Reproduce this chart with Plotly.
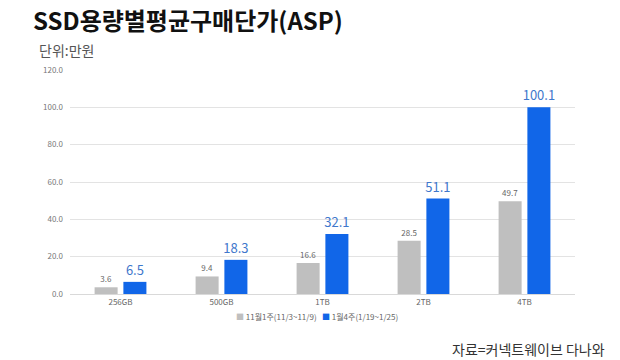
import plotly.graph_objects as go

categories = ["256GB", "500GB", "1TB", "2TB", "4TB"]
nov_values = [3.6, 9.4, 16.6, 28.5, 49.7]
jan_values = [6.5, 18.3, 32.1, 51.1, 100.1]
series_names = ["11월1주(11/3~11/9)", "1월4주(1/19~1/25)"]
series_colors = ["#bfbfbf", "#1166e8"]
y_ticks = [0, 20, 40, 60, 80, 100, 120]

FONT = "Noto Sans CJK KR"

fig = go.Figure()
fig.add_trace(go.Bar(
    x=categories, y=nov_values, name=series_names[0],
    marker=dict(color=series_colors[0], line=dict(width=0)),
    text=[f"{v:.1f}" for v in nov_values], textposition="outside",
    textfont=dict(size=8, color="#666666", family=FONT), cliponaxis=False,
    constraintext="none",
))
fig.add_trace(go.Bar(
    x=categories, y=jan_values, name=series_names[1],
    marker=dict(color=series_colors[1], line=dict(width=0)),
    text=[f"{v:.1f}" for v in jan_values], textposition="outside",
    textfont=dict(size=13, color="#3f78cc", family=FONT), cliponaxis=False,
    constraintext="none",
))

fig.update_layout(
    width=620, height=360,
    margin=dict(l=70, r=45, t=70, b=66),
    paper_bgcolor="white", plot_bgcolor="white",
    barmode="group", bargap=0.43, bargroupgap=0.2,
    font=dict(family=FONT, color="#666666"),
    showlegend=False,
)
fig.update_xaxes(showgrid=False, showline=True, linecolor="#d9d9d9", linewidth=1,
                 tickfont=dict(size=8, color="#666666"), ticks="")
fig.update_yaxes(range=[0, 120], tickvals=y_ticks,
                 ticktext=[f"{v:.1f}" for v in y_ticks],
                 showgrid=True, gridcolor="#e3e3e3", gridwidth=1,
                 zeroline=False, showline=False,
                 tickfont=dict(size=8, color="#777777"), ticks="", ticklabelstandoff=6)


def px_y(p):
    return (294 - p) / 224


def px_x(p):
    return (p - 70) / 505


fig.add_annotation(text="<b>SSD용량별평균구매단가(ASP)</b>", xref="paper", yref="paper",
                   x=px_x(31), y=px_y(0), xanchor="left", yanchor="top", showarrow=False,
                   font=dict(size=24, color="#111111", family=FONT))
fig.add_annotation(text="단위:만원", xref="paper", yref="paper",
                   x=px_x(37), y=px_y(50), xanchor="left", yanchor="middle", showarrow=False,
                   font=dict(size=14, color="#555555", family=FONT))
fig.add_annotation(text="자료=커넥트웨이브 다나와", xref="paper", yref="paper",
                   x=px_x(607), y=px_y(349), xanchor="right", yanchor="middle", showarrow=False,
                   font=dict(size=14, color="#333333", family=FONT))
for name, color, left in zip(series_names, series_colors, [234, 320]):
    fig.add_annotation(text=f"<span style='color:{color}'>■</span> {name}",
                       xref="paper", yref="paper", x=px_x(left), y=px_y(316),
                       xanchor="left", yanchor="middle", showarrow=False,
                       font=dict(size=8, color="#666666", family=FONT))

fig.write_html("out.html", config={"displayModeBar": False},
               post_script="document.body.style.margin='0';")
